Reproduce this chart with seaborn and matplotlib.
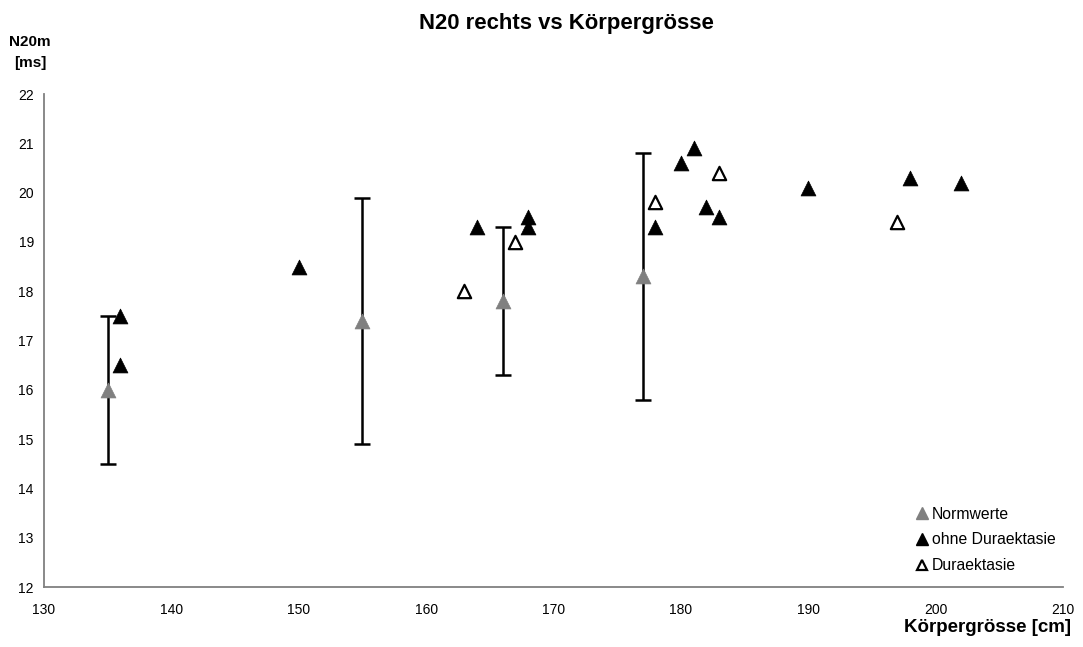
import pandas as pd
import numpy as np
import matplotlib.pyplot as plt
import seaborn as sns
from matplotlib.lines import Line2D

# ---- data ----
norm_x = [135, 155, 166, 177]
norm_y = [16.0, 17.4, 17.8, 18.3]
norm_err = [1.5, 2.5, 1.5, 2.5]

ohne_x = [136, 136, 150, 164, 168, 168, 178, 180, 181, 182, 183, 190, 198, 202]
ohne_y = [17.5, 16.5, 18.5, 19.3, 19.5, 19.3, 19.3, 20.6, 20.9, 19.7, 19.5, 20.1, 20.3, 20.2]

dura_x = [163, 167, 178, 183, 197]
dura_y = [18.0, 19.0, 19.8, 20.4, 19.4]

x_ticks = list(range(130, 211, 10))
y_ticks = list(range(12, 23))

sns.set_theme(style="white")
plt.rcParams['font.family'] = ['Liberation Sans', 'DejaVu Sans']
plt.rcParams['text.color'] = 'black'

df = pd.concat([
    pd.DataFrame({'x': norm_x, 'y': norm_y, 'group': 'Normwerte'}),
    pd.DataFrame({'x': ohne_x, 'y': ohne_y, 'group': 'ohne Duraektasie'}),
    pd.DataFrame({'x': dura_x, 'y': dura_y, 'group': 'Duraektasie'}),
], ignore_index=True)

W, H = 1083, 647
fig = plt.figure(figsize=(W / 100, H / 100), dpi=100)
ax = fig.add_axes([44 / W, 60 / H, 1019 / W, 493 / H])

# error bars for the normal values
ax.errorbar(norm_x, norm_y, yerr=norm_err, fmt='none', ecolor='black',
            elinewidth=1.8, capsize=5.5, capthick=1.8, zorder=1)

ms = 115
sns.scatterplot(data=df[df.group == 'Normwerte'], x='x', y='y', ax=ax,
                marker='^', s=ms, color='#808080', edgecolor='#808080',
                linewidth=0.5, zorder=3, legend=False)
sns.scatterplot(data=df[df.group == 'ohne Duraektasie'], x='x', y='y', ax=ax,
                marker='^', s=ms, color='black', edgecolor='black',
                linewidth=0.5, zorder=3, legend=False)
sns.scatterplot(data=df[df.group == 'Duraektasie'], x='x', y='y', ax=ax,
                marker='^', s=ms * 0.8, facecolor='white', edgecolor='black',
                linewidth=1.6, zorder=3, legend=False)

ax.set_xlim(130, 210)
ax.set_ylim(12, 22)
ax.set_xticks(x_ticks)
ax.set_yticks(y_ticks)
ax.tick_params(axis='both', labelsize=10, colors='#404040', labelcolor='black',
               length=4, width=0.9, direction='out')
ax.tick_params(axis='x', pad=7.5)
ax.tick_params(axis='y', pad=3.3)
for side in ['top', 'right']:
    ax.spines[side].set_visible(False)
for side in ['left', 'bottom']:
    ax.spines[side].set_color('#808080')
    ax.spines[side].set_linewidth(1.3)
ax.set_xlabel('')
ax.set_ylabel('')

fig.text(566 / W, 1 - 24 / H, 'N20 rechts vs Körpergrösse', ha='center',
         va='center', fontsize=15.9, fontweight='bold')
fig.text(30 / W, 1 - 42 / H, 'N20m', ha='center', va='center',
         fontsize=11, fontweight='bold')
fig.text(30 / W, 1 - 63 / H, '[ms]', ha='center', va='center',
         fontsize=11, fontweight='bold')
fig.text(1071 / W, 1 - 628 / H, 'Körpergrösse [cm]', ha='right',
         va='center', fontsize=13.5, fontweight='bold')

handles = [
    Line2D([], [], marker='^', linestyle='none', markersize=8.5,
           markerfacecolor='#808080', markeredgecolor='#808080', label='Normwerte'),
    Line2D([], [], marker='^', linestyle='none', markersize=8.5,
           markerfacecolor='black', markeredgecolor='black', label='ohne Duraektasie'),
    Line2D([], [], marker='^', linestyle='none', markersize=7.5,
           markerfacecolor='white', markeredgecolor='black', markeredgewidth=1.6,
           label='Duraektasie'),
]
leg = ax.legend(handles=handles, loc='center left',
                bbox_to_anchor=((916 - 44) / 1019, (587 - 540) / 493),
                frameon=False, fontsize=11.3, handletextpad=0.2,
                handlelength=0.8, labelspacing=0.68, borderaxespad=0,
                borderpad=0)

fig.savefig('out.png', dpi=100)
